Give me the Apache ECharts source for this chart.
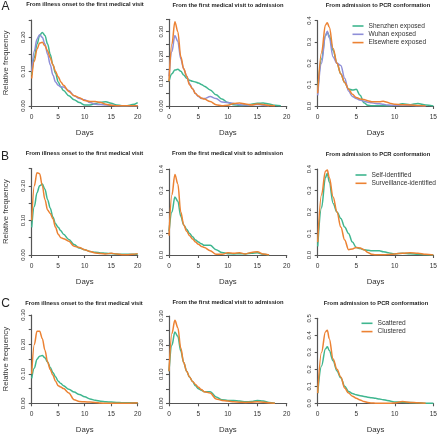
<!DOCTYPE html>
<html><head><meta charset="utf-8">
<script src="https://cdn.jsdelivr.net/npm/echarts@6/dist/echarts.min.js"></script>
<style>html,body{margin:0;padding:0;background:#fff}#c{width:440px;height:436px}</style>
</head><body><div id="c"></div>
<script>
// ---- data ----
const days12 = [0,0.5,1,1.5,2,2.5,3,3.5,4,4.5,5,5.5,6,7,8,9,10,11,12,13,14,15,16,17,18,19,20];
const days3 = [0,0.5,1,1.25,1.5,2,2.5,3,3.5,4,4.5,5,5.5,6,6.5,7,7.5,8,8.5,9,9.5,10,11,12,13,14,15];

const titles = ['From illness onset to the first medical visit','From the first medical visit to admission','From admission to PCR conformation'];
const panelLetters = ['A','B','C'];
const namesA = ['Shenzhen exposed','Wuhan exposed','Elsewhere exposed'];
const namesB = ['Self-identified','Surveillance-identified'];
const namesC = ['Scattered','Clustered'];

const xTicks12 = ['0','5','10','15','20'];
const xTicks3 = ['0','5','10','15'];
const yTicksA1 = ['0.00','0.10','0.20'];
const yTicksA2 = ['0.00','0.10','0.20','0.30'];
const yTicksA3 = ['0.0','0.1','0.2','0.3','0.4'];
const yTicksB1 = ['0.00','0.10','0.20'];
const yTicksB2 = ['0.0','0.1','0.2','0.3','0.4'];
const yTicksB3 = ['0.0','0.1','0.2','0.3','0.4'];
const yTicksC1 = ['0.00','0.10','0.20','0.30'];
const yTicksC2 = ['0.00','0.10','0.20','0.30'];
const yTicksC3 = ['0.0','0.1','0.2','0.3','0.4','0.5'];

const a1Shenzhen = [0.09,0.14,0.18,0.205,0.214,0.205,0.18,0.15,0.12,0.095,0.07,0.055,0.045,0.03,0.018,0.01,0.003,0.003,0.007,0.011,0.012,0.008,0.003,0.001,0.001,0.004,0.01];
const a1Wuhan = [0.10,0.16,0.195,0.207,0.2,0.18,0.15,0.12,0.09,0.07,0.06,0.056,0.055,0.045,0.03,0.022,0.018,0.01,0.005,0.004,0.003,0.002,0.001,0.001,0.001,0.001,0.001];
const a1Elsewhere = [0.08,0.13,0.165,0.183,0.185,0.175,0.16,0.14,0.12,0.1,0.085,0.07,0.06,0.042,0.03,0.024,0.016,0.013,0.013,0.01,0.005,0.002,0.001,0.001,0.001,0.001,0.001];

const a2Shenzhen = [0.10,0.13,0.145,0.148,0.14,0.125,0.112,0.104,0.1,0.097,0.093,0.087,0.08,0.065,0.045,0.028,0.014,0.005,0.002,0.003,0.007,0.011,0.012,0.008,0.003,0.001,null];
const a2Wuhan = [0.12,0.22,0.285,0.26,0.19,0.15,0.12,0.09,0.07,0.05,0.038,0.03,0.03,0.038,0.03,0.016,0.014,0.01,0.005,0.004,0.005,0.006,0.003,0.001,null,null,null];
const a2Elsewhere = [0.10,0.25,0.34,0.3,0.2,0.15,0.12,0.085,0.07,0.05,0.04,0.032,0.028,0.018,0.005,0.001,0.003,0.01,0.012,0.008,0.004,0.008,0.006,0.002,0.001,null,null];

const a3Shenzhen = [0.07,0.22,0.33,0.345,0.33,0.26,0.2,0.15,0.11,0.08,0.075,0.078,0.05,0.015,0.003,0.001,0.001,0.001,0.001,0.001,0.001,0.003,0.01,0.006,0.012,0.005,0];
const a3Wuhan = [0.05,0.2,0.33,0.35,0.32,0.23,0.2,0.19,0.13,0.07,0.045,0.035,0.028,0.022,0.018,0.015,0.012,0.01,0.008,0.005,0.004,0.003,0.005,0.003,0.001,0,null];
const a3Elsewhere = [0.06,0.25,0.38,0.39,0.37,0.27,0.2,0.15,0.11,0.08,0.055,0.04,0.033,0.03,0.025,0.02,0.02,0.02,0.022,0.018,0.012,0.008,0.006,0.005,0.002,0,null];

const b1Self = [0.08,0.14,0.18,0.2,0.205,0.19,0.16,0.135,0.11,0.09,0.08,0.07,0.06,0.045,0.03,0.02,0.015,0.01,0.008,0.006,0.005,0.004,0.003,0.002,0.002,0.002,0.002];
const b1Surv = [0.10,0.2,0.238,0.235,0.2,0.16,0.13,0.12,0.105,0.08,0.06,0.05,0.047,0.04,0.025,0.022,0.015,0.01,0.006,0.004,0.003,0.005,0.003,0.001,0.001,0.002,0.004];

const b2Self = [0.11,0.2,0.27,0.25,0.18,0.14,0.12,0.1,0.085,0.07,0.06,0.052,0.045,0.045,0.025,0.012,0.006,0.005,0.006,0.005,0.008,0.01,0.003,0,null,null,null];
const b2Surv = [0.09,0.28,0.375,0.33,0.2,0.14,0.11,0.09,0.075,0.06,0.05,0.04,0.035,0.02,0.003,0.003,0.01,0.008,0.01,0.005,0.012,0.015,0.005,0,null,null,null];

const b3Self = [0.04,0.22,0.36,0.38,0.34,0.24,0.2,0.17,0.13,0.1,0.06,0.035,0.03,0.025,0.022,0.02,0.02,0.02,0.015,0.012,0.008,0.005,0.008,0.006,0.003,0.001,0];
const b3Surv = [0.06,0.28,0.39,0.395,0.36,0.27,0.2,0.13,0.07,0.025,0.028,0.035,0.033,0.025,0.012,0.003,0.001,0.001,0.001,0.002,0.003,0.005,0.008,0.01,0.008,0.003,0];

const c1Scattered = [0.085,0.12,0.15,0.16,0.162,0.155,0.14,0.122,0.105,0.09,0.075,0.067,0.06,0.048,0.038,0.03,0.022,0.015,0.01,0.007,0.005,0.004,0.003,0.002,0.002,0.002,0.002];
const c1Clustered = [0.1,0.2,0.245,0.245,0.22,0.18,0.14,0.115,0.095,0.075,0.06,0.055,0.05,0.035,0.012,0.006,0.005,0.004,0.003,0.001,0,0,0,0,0,0.001,0.002];

const c2Scattered = [0.11,0.2,0.245,0.23,0.18,0.14,0.11,0.09,0.075,0.06,0.05,0.045,0.04,0.04,0.022,0.012,0.01,0.01,0.008,0.005,0.006,0.01,0.008,0.003,0,null,null];
const c2Clustered = [0.11,0.24,0.285,0.26,0.19,0.14,0.11,0.09,0.075,0.065,0.055,0.047,0.04,0.035,0.015,0.01,0.008,0.005,0.004,0.003,0.004,0.005,0.004,0.002,0,null,null];

const c3Scattered = [0.06,0.22,0.32,0.333,0.31,0.25,0.19,0.15,0.1,0.07,0.058,0.05,0.045,0.04,0.036,0.033,0.029,0.025,0.021,0.017,0.012,0.008,0.006,0.004,0.003,0.001,0];
const c3Clustered = [0.06,0.3,0.42,0.43,0.38,0.26,0.2,0.155,0.09,0.06,0.042,0.03,0.02,0.01,0.005,0.002,0.001,0.001,0,0,0.001,0.002,0.01,0.005,0.003,0,null];

// ---- styles ----
const GREEN = '#3fb68f', PURPLE = '#8f8fd8', ORANGE = '#ec8233';
const AX = '#555', TXT = '#333';
const FONT = 'Liberation Sans, Arial, sans-serif';

const panels = [
  {g:{left:31.7,top:20,width:106,height:86}, xMax:20, xT:xTicks12, yMax:0.25, yI:0.05, yT:yTicksA1, d:days12, tx:85, ty:4.5, t:0, lab:0,
   c:[[namesA[0],a1Shenzhen,GREEN],[namesA[1],a1Wuhan,PURPLE],[namesA[2],a1Elsewhere,ORANGE]]},
  {g:{left:169,top:19.3,width:117.7,height:86.7}, xMax:20, xT:xTicks12, yMax:0.35, yI:0.05, yT:yTicksA2, d:days12, tx:228, ty:5, t:1,
   c:[[namesA[0],a2Shenzhen,GREEN],[namesA[1],a2Wuhan,PURPLE],[namesA[2],a2Elsewhere,ORANGE]]},
  {g:{left:317.7,top:20.7,width:116.6,height:85.3}, xMax:15, xT:xTicks3, yMax:0.4, yI:0.1, yT:yTicksA3, d:days3, tx:378, ty:5, t:2,
   c:[[namesA[0],a3Shenzhen,GREEN],[namesA[1],a3Wuhan,PURPLE],[namesA[2],a3Elsewhere,ORANGE]]},
  {g:{left:31.7,top:168.5,width:106,height:86.5}, xMax:20, xT:xTicks12, yMax:0.25, yI:0.05, yT:yTicksB1, d:days12, tx:84.5, ty:153.3, t:0, lab:1,
   c:[[namesB[0],b1Self,GREEN],[namesB[1],b1Surv,ORANGE]]},
  {g:{left:169,top:169,width:117.7,height:86}, xMax:20, xT:xTicks12, yMax:0.4, yI:0.1, yT:yTicksB2, d:days12, tx:227.5, ty:153.3, t:1,
   c:[[namesB[0],b2Self,GREEN],[namesB[1],b2Surv,ORANGE]]},
  {g:{left:317.7,top:169,width:116.6,height:86}, xMax:15, xT:xTicks3, yMax:0.4, yI:0.1, yT:yTicksB3, d:days3, tx:378, ty:154.3, t:2,
   c:[[namesB[0],b3Self,GREEN],[namesB[1],b3Surv,ORANGE]]},
  {g:{left:31.7,top:315,width:106,height:88.3}, xMax:20, xT:xTicks12, yMax:0.3, yI:0.05, yT:yTicksC1, d:days12, tx:84, ty:303.3, t:0, lab:2,
   c:[[namesC[0],c1Scattered,GREEN],[namesC[1],c1Clustered,ORANGE]]},
  {g:{left:169,top:316,width:117.7,height:87.3}, xMax:20, xT:xTicks12, yMax:0.3, yI:0.05, yT:yTicksC2, d:days12, tx:228, ty:302.7, t:1,
   c:[[namesC[0],c2Scattered,GREEN],[namesC[1],c2Clustered,ORANGE]]},
  {g:{left:317.7,top:318.3,width:116.6,height:85}, xMax:15, xT:xTicks3, yMax:0.5, yI:0.1, yT:yTicksC3, d:days3, tx:376, ty:303.3, t:2,
   c:[[namesC[0],c3Scattered,GREEN],[namesC[1],c3Clustered,ORANGE]]}
];
const letterPos = [[5.5,6.5],[5,157],[5.5,303.5]];

const grid=[], xAxis=[], yAxis=[], series=[], graphic=[];
panels.forEach((p,i)=>{
  grid.push(Object.assign({containLabel:false}, p.g));
  xAxis.push({type:'value', gridIndex:i, min:0, max:p.xMax, interval:5,
    name:'Days', nameLocation:'middle', nameGap:23,
    nameTextStyle:{fontSize:7.8, color:TXT, fontFamily:FONT},
    axisLine:{show:true, lineStyle:{color:AX, width:1.2}},
    axisTick:{show:true, length:3, lineStyle:{color:AX, width:1.1}},
    axisLabel:{fontSize:6.6, color:TXT, margin:7.5, fontFamily:FONT, showMinLabel:true, showMaxLabel:true,
      formatter:(v)=>{const s=String(Math.round(v*1000)/1000); return p.xT.includes(s)?s:'';}},
    splitLine:{show:false}});
  const dec = p.yT[0].split('.')[1].length;
  yAxis.push({type:'value', gridIndex:i, min:0, max:p.yMax, interval:p.yI,
    name: p.lab!==undefined ? 'Relative frequency' : '', nameLocation:'middle', nameGap:21.5, nameRotate:90,
    nameTextStyle:{fontSize:7.8, color:TXT, fontFamily:FONT},
    axisLine:{show:true, lineStyle:{color:AX, width:1.2}},
    axisTick:{show:true, length:3, lineStyle:{color:AX, width:1.1}},
    axisLabel:{fontSize:6, color:TXT, margin:5, rotate:90, fontFamily:FONT, showMinLabel:true, showMaxLabel:true,
      formatter:(v)=>{const s=v.toFixed(dec); return p.yT.includes(s)?s:'';}},
    splitLine:{show:false}});
  p.c.forEach(([name, vals, color])=>{
    const data=[];
    p.d.forEach((x,k)=>{ if(vals[k]!==null && vals[k]!==undefined) data.push([x, vals[k]]); });
    series.push({type:'line', name, xAxisIndex:i, yAxisIndex:i, data, smooth:0.35, smoothMonotone:'x',
      showSymbol:false, symbol:'none', color, lineStyle:{color, width:1.5}, silent:true, animation:false});
  });
  graphic.push({type:'text', x:p.tx, y:p.ty, style:{text:titles[p.t], fontSize:5.8, fontWeight:'bold',
    fontFamily:FONT, fill:'#222', textAlign:'center', textVerticalAlign:'middle'}});
});
letterPos.forEach((lp,i)=>{
  graphic.push({type:'text', x:lp[0], y:lp[1], style:{text:panelLetters[i], fontSize:12, fontFamily:FONT,
    fill:'#222', textAlign:'center', textVerticalAlign:'middle'}});
});

const legendBase = {orient:'vertical', icon:'rect', itemWidth:11, itemHeight:1.6, itemGap:1.1, padding:0,
  selectedMode:false, textStyle:{fontSize:6.6, lineHeight:7.2, color:TXT, fontFamily:FONT}};
const legend = [
  Object.assign({}, legendBase, {data:namesA, left:352.5, top:22.4}),
  Object.assign({}, legendBase, {data:namesB, left:355.5, top:171.4}),
  Object.assign({}, legendBase, {data:namesC, left:361.5, top:319.7})
];

const chart = echarts.init(document.getElementById('c'), null, {renderer:'canvas'});
chart.setOption({animation:false, backgroundColor:'#fff', grid, xAxis, yAxis, series, legend, graphic});
</script></body></html>
